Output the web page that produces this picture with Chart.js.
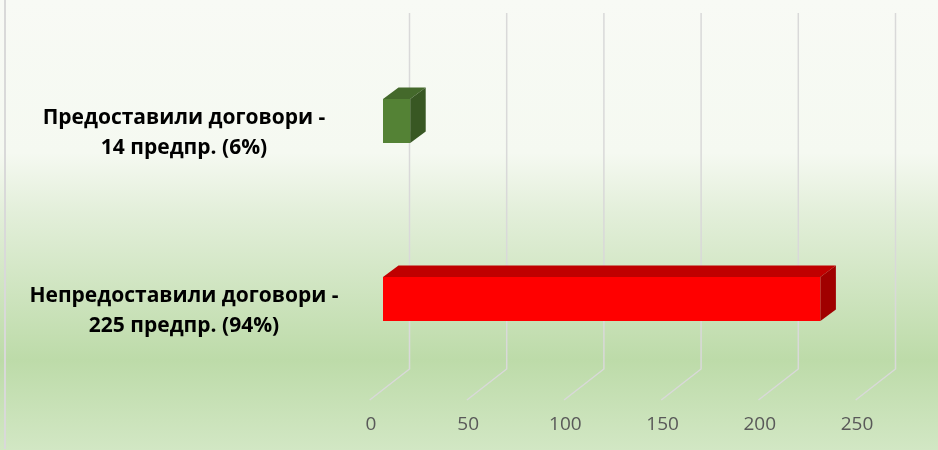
<!DOCTYPE html>
<html lang="bg">
<head>
  <meta charset="UTF-8" />
  <title>Договори</title>
  <script src="https://cdn.jsdelivr.net/npm/chart.js@4"></script>
  <style>
    html, body { margin: 0; padding: 0; background: #fff; }
    #kutiya { width: 938px; height: 450px; }
  </style>
</head>
<body>
  <div id="kutiya"><canvas id="grafika" width="938" height="450"></canvas></div>

  <script>
    // данни
    const kategorii = [
      ['Предоставили договори -', '14 предпр. (6%)'],
      ['Непредоставили договори -', '225 предпр. (94%)']
    ];
    const stoinosti = [14, 225];
    const xMin = 0, xMax = 250, xStapka = 50;

    // цветове: лице, горна страна, дясна страна
    const lice = ['#548235', '#ff0000'];
    const gore = ['#44692b', '#c00000'];
    const strana = ['#385723', '#a00000'];

    const shrift = 'Open Sans';
    const m = document.createElement('canvas').getContext('2d');
    m.font = 'bold 21px "' + shrift + '"';
    const nai = Math.max(...kategorii.flat().map(s => m.measureText(s).width));
    const padY = Math.max(4, 383 - 192 - nai / 2);

    const fon = {
      id: 'fon',
      beforeDraw(chart) {
        const c = chart.ctx;
        const g = c.createLinearGradient(0, 0, 0, chart.height);
        g.addColorStop(0, '#f8faf5');
        g.addColorStop(0.34, '#f5f9f1');
        g.addColorStop(0.47, '#e3efda');
        g.addColorStop(0.8, '#bddba9');
        g.addColorStop(1, '#d2e7c4');
        c.save();
        c.fillStyle = g;
        c.fillRect(0, 0, chart.width, chart.height);
        c.fillStyle = '#d9d9d9';
        c.fillRect(4, 0, 2, chart.height - 1);
        c.restore();
      }
    };

    // 3D мрежа: задна стена + под
    const mreja = {
      id: 'mreja',
      beforeDatasetsDraw(chart) {
        const c = chart.ctx, sx = chart.scales.x;
        c.save();
        c.strokeStyle = '#d9d9d9';
        c.lineWidth = 1.5;
        sx.ticks.forEach(t => {
          const p = sx.getPixelForValue(t.value);
          c.beginPath();
          c.moveTo(p + 26.5, 13);
          c.lineTo(p + 26.5, 369);
          c.lineTo(p - 13.3, 400);
          c.stroke();
        });
        c.restore();
      }
    };

    // горна и дясна страна на стълбовете
    const obem = {
      id: 'obem',
      afterDatasetsDraw(chart) {
        const c = chart.ctx;
        const dx = 15.5, dy = -11.5;
        chart.getDatasetMeta(0).data.forEach((bar, i) => {
          const { x, y, base, height } = bar.getProps(['x', 'y', 'base', 'height'], true);
          const t = y - height / 2, b = y + height / 2;
          c.save();
          c.fillStyle = gore[i];
          c.beginPath();
          c.moveTo(base, t);
          c.lineTo(base + dx, t + dy);
          c.lineTo(x + dx, t + dy);
          c.lineTo(x, t);
          c.closePath();
          c.fill();
          c.fillStyle = strana[i];
          c.beginPath();
          c.moveTo(x, t);
          c.lineTo(x + dx, t + dy);
          c.lineTo(x + dx, b + dy);
          c.lineTo(x, b);
          c.closePath();
          c.fill();
          c.restore();
        });
      }
    };

    new Chart(document.getElementById('grafika'), {
      type: 'bar',
      data: {
        labels: kategorii,
        datasets: [{
          data: stoinosti,
          backgroundColor: lice,
          borderWidth: 0,
          categoryPercentage: 1,
          barPercentage: 0.247
        }]
      },
      plugins: [fon, mreja, obem],
      options: {
        indexAxis: 'y',
        responsive: false,
        animation: false,
        layout: { padding: { top: 32, right: 69, bottom: 0, left: 0 } },
        plugins: {
          legend: { display: false },
          tooltip: { enabled: false }
        },
        scales: {
          x: {
            min: xMin,
            max: xMax,
            grid: { display: false },
            border: { display: false },
            ticks: {
              stepSize: xStapka,
              color: '#595959',
              padding: 17,
              labelOffset: -12,
              font: { family: shrift, size: 19 }
            },
            afterFit(s) {
              s.height = 62;
              s.paddingLeft = 0;
              s.paddingRight = 0;
            }
          },
          y: {
            grid: { display: false },
            border: { display: false },
            ticks: {
              color: '#000',
              crossAlign: 'center',
              padding: padY,
              labelOffset: 12,
              font: { family: shrift, size: 21, weight: 'bold', lineHeight: 1.43 }
            },
            afterFit(s) {
              s.width = 383;
              s.paddingTop = 0;
              s.paddingBottom = 0;
            }
          }
        }
      }
    });
  </script>
</body>
</html>
